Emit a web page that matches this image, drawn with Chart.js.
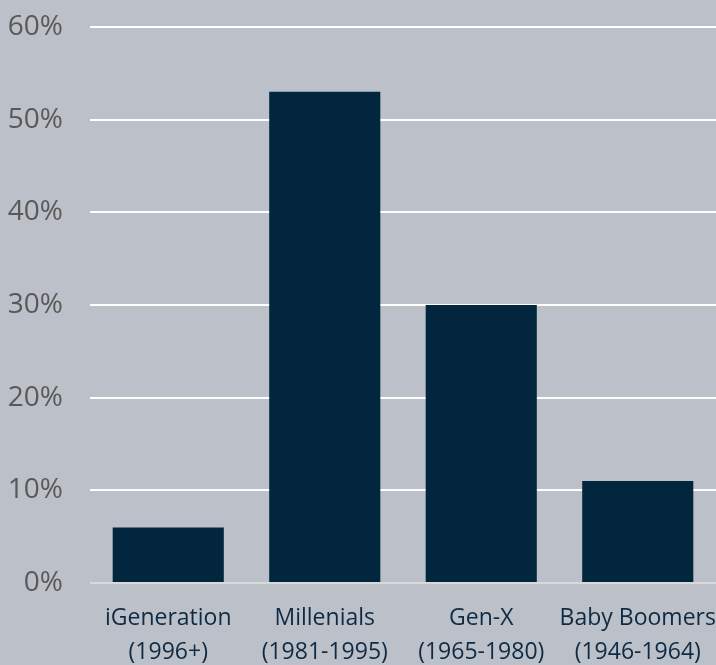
<!DOCTYPE html>
<html>
<head>
<meta charset="utf-8">
<script src="https://cdn.jsdelivr.net/npm/chart.js@4/dist/chart.umd.min.js"></script>
<style>
  html, body { margin: 0; padding: 0; background: #bcc0c8; }
  #wrap { width: 716px; height: 665px; }
</style>
</head>
<body>
<div id="wrap"><canvas id="genChart"></canvas></div>
<script>
    // Данные графика
    const categories = [
        ['iGeneration', '(1996+)'],
        ['Millenials', '(1981-1995)'],
        ['Gen-X', '(1965-1980)'],
        ['Baby Boomers', '(1946-1964)']
    ];
    const shares = [6, 53, 30, 11];
    const yTicks = [0, 10, 20, 30, 40, 50, 60];

    const fontName = '"Open Sans", sans-serif';

    new Chart(document.getElementById('genChart'), {
        type: 'bar',
        data: {
            labels: categories,
            datasets: [{
                data: shares,
                backgroundColor: '#03263f',
                barPercentage: 0.71,
                categoryPercentage: 1
            }]
        },
        options: {
            responsive: true,
            maintainAspectRatio: false,
            animation: false,
            layout: { padding: { top: 27, right: 0, left: 0, bottom: 0 } },
            plugins: {
                legend: { display: false },
                tooltip: { enabled: false }
            },
            scales: {
                y: {
                    min: 0,
                    max: 60,
                    afterBuildTicks: scale => {
                        scale.ticks = yTicks.map(v => ({ value: v }));
                    },
                    afterFit: scale => {
                        scale.width = 90;
                        scale.paddingTop = 0;
                        scale.paddingBottom = 0;
                    },
                    border: { display: false },
                    grid: {
                        drawTicks: false,
                        lineWidth: 2,
                        color: ctx => ctx.tick && ctx.tick.value === 0 ? '#d9d9d9' : '#ffffff'
                    },
                    ticks: {
                        padding: 27,
                        color: '#595959',
                        font: { family: fontName, size: 28 },
                        callback: v => v + '%'
                    }
                },
                x: {
                    afterFit: scale => {
                        scale.height = 82;
                        scale.paddingLeft = 0;
                        scale.paddingRight = 0;
                    },
                    border: { display: false },
                    grid: { display: false },
                    ticks: {
                        padding: 10,
                        maxRotation: 0,
                        autoSkip: false,
                        color: '#0e2a44',
                        font: { family: fontName, size: 23, lineHeight: 1.5 }
                    }
                }
            }
        }
    });
</script>
</body>
</html>
